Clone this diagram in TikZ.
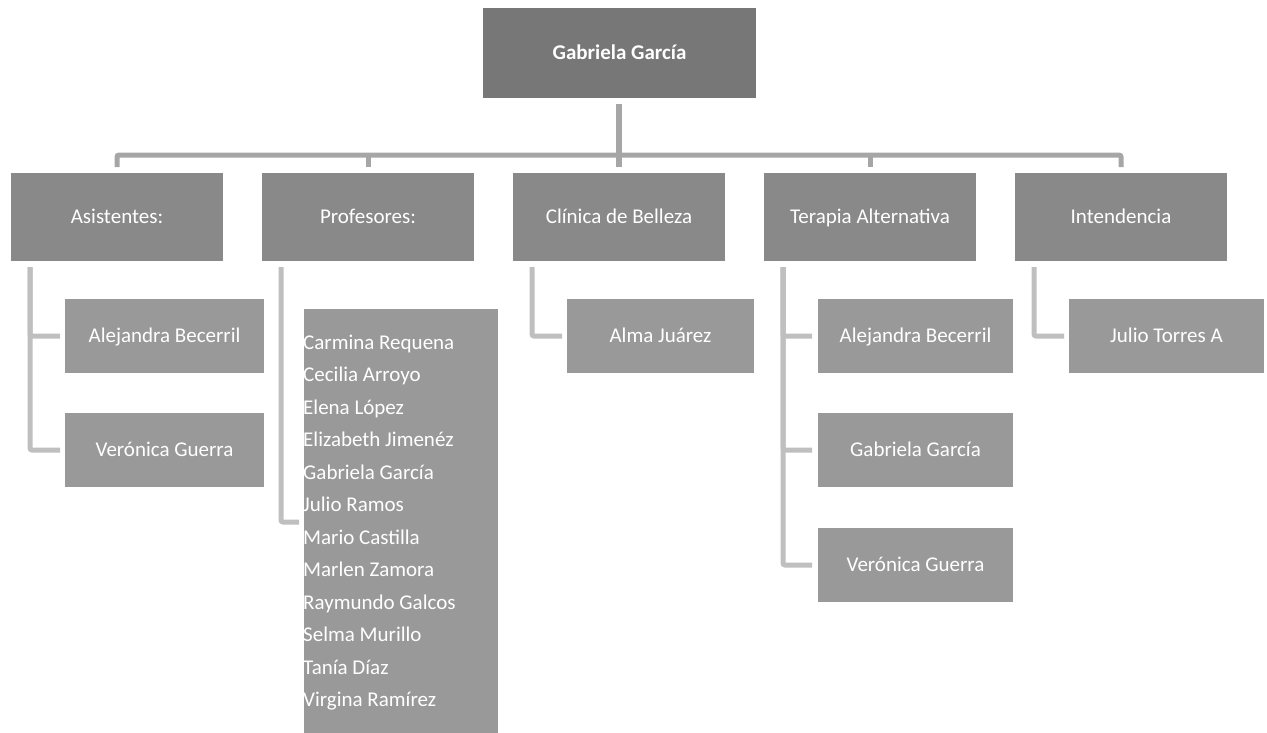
\documentclass[tikz,border=0pt]{standalone}
\usepackage{fontspec}
\setmainfont{Carlito}
\usetikzlibrary{calc}
\definecolor{rootc}{HTML}{777777}
\definecolor{lvla}{HTML}{898989}
\definecolor{lvlb}{HTML}{999999}
\definecolor{conna}{HTML}{A6A6A6}
\definecolor{connb}{HTML}{BFBFBF}
\begin{document}
\begin{tikzpicture}[x=1pt,y=-1pt,
  box/.style={rectangle, inner sep=0pt, outer sep=0pt, text=white,
    font=\fontsize{21}{25}\selectfont, text height=15.5pt, text depth=2.5pt},
  rootbox/.style={box, fill=rootc, minimum width=273pt, minimum height=90pt,
    font=\fontsize{21}{25}\selectfont\bfseries},
  lvone/.style={box, fill=lvla, minimum width=212pt, minimum height=88pt},
  lvtwo/.style={box, fill=lvlb, minimum height=74pt},
  topconn/.style={draw=conna, line width=5pt, rounded corners=2pt},
  subconn/.style={draw=connb, line width=5pt, rounded corners=2pt},
]
\useasboundingbox (0,0) rectangle (1267,732);

% root and level one
\node[rootbox] (root) at (619.5,53) {Gabriela García};
\node[lvone] (asis) at (117,217) {Asistentes:};
\node[lvone] (prof) at (368,217) {Profesores:};
\node[lvone] (cli)  at (619,217) {Clínica de Belleza};
\node[lvone] (ter)  at (870,217) {Terapia Alternativa};
\node[lvone] (inte) at (1121,217) {Intendencia};

% level two
\node[lvtwo, minimum width=199pt] (a1) at (164.5,336) {Alejandra Becerril};
\node[lvtwo, minimum width=199pt] (a2) at (164.5,450) {Verónica Guerra};
\node[lvtwo, minimum width=187pt] (c1) at (660.5,336) {Alma Juárez};
\node[lvtwo, minimum width=195pt] (t1) at (915.5,336) {Alejandra Becerril};
\node[lvtwo, minimum width=195pt] (t2) at (915.5,450) {Gabriela García};
\node[lvtwo, minimum width=195pt] (t3) at (915.5,565) {Verónica Guerra};
\node[lvtwo, minimum width=195pt] (i1) at (1166.5,336) {Julio Torres A};

% profesores list
\node[rectangle, fill=lvlb, inner sep=0pt, outer sep=0pt, anchor=north west,
  minimum width=194pt, minimum height=426pt] (plist) at (304,309) {};
\begin{scope}
\clip (plist.north west) rectangle (plist.south east);
\node[anchor=base west, inner sep=0pt, text=white,
  font=\fontsize{21}{32.5}\selectfont] (ptext) at (303,349)
  {\parbox[t]{190pt}{\raggedright
   Carmina Requena\\ Cecilia Arroyo\\ Elena López\\ Elizabeth Jimenéz\\
   Gabriela García\\ Julio Ramos\\ Mario Castilla\\ Marlen Zamora\\
   Raymundo Galcos\\ Selma Murillo\\ Tanía Díaz\\ Virgina Ramírez}};
\end{scope}

% top connectors
\draw[topconn] ($(asis.north)+(0,-6)$) -- ($(asis.north)+(0,-18)$)
  -| ($(inte.north)+(0,-6)$);
\draw[topconn] ($(prof.north)+(0,-6)$) -- ($(prof.north)+(0,-18)$);
\draw[topconn] ($(ter.north)+(0,-6)$) -- ($(ter.north)+(0,-18)$);
\draw[draw=conna, line width=6pt] ($(root.south -| cli.north)+(0,6)$) -- ($(cli.north)+(0,-6)$);

% sub connectors
\draw[subconn] ($(asis.south west)+(19,6)$) |- ($(a1.west)+(-5,0)$);
\draw[subconn] ($(asis.south west)+(19,6)$) |- ($(a2.west)+(-5,0)$);
\draw[subconn] ($(prof.south west)+(19,6)$) |- ($(plist.west)+(-5,0)$);
\draw[subconn] ($(cli.south west)+(19,6)$) |- ($(c1.west)+(-5,0)$);
\draw[subconn] ($(ter.south west)+(19,6)$) |- ($(t1.west)+(-6,0)$);
\draw[subconn] ($(ter.south west)+(19,6)$) |- ($(t2.west)+(-6,0)$);
\draw[subconn] ($(ter.south west)+(19,6)$) |- ($(t3.west)+(-6,0)$);
\draw[subconn] ($(inte.south west)+(19,6)$) |- ($(i1.west)+(-5,0)$);
\end{tikzpicture}
\end{document}
